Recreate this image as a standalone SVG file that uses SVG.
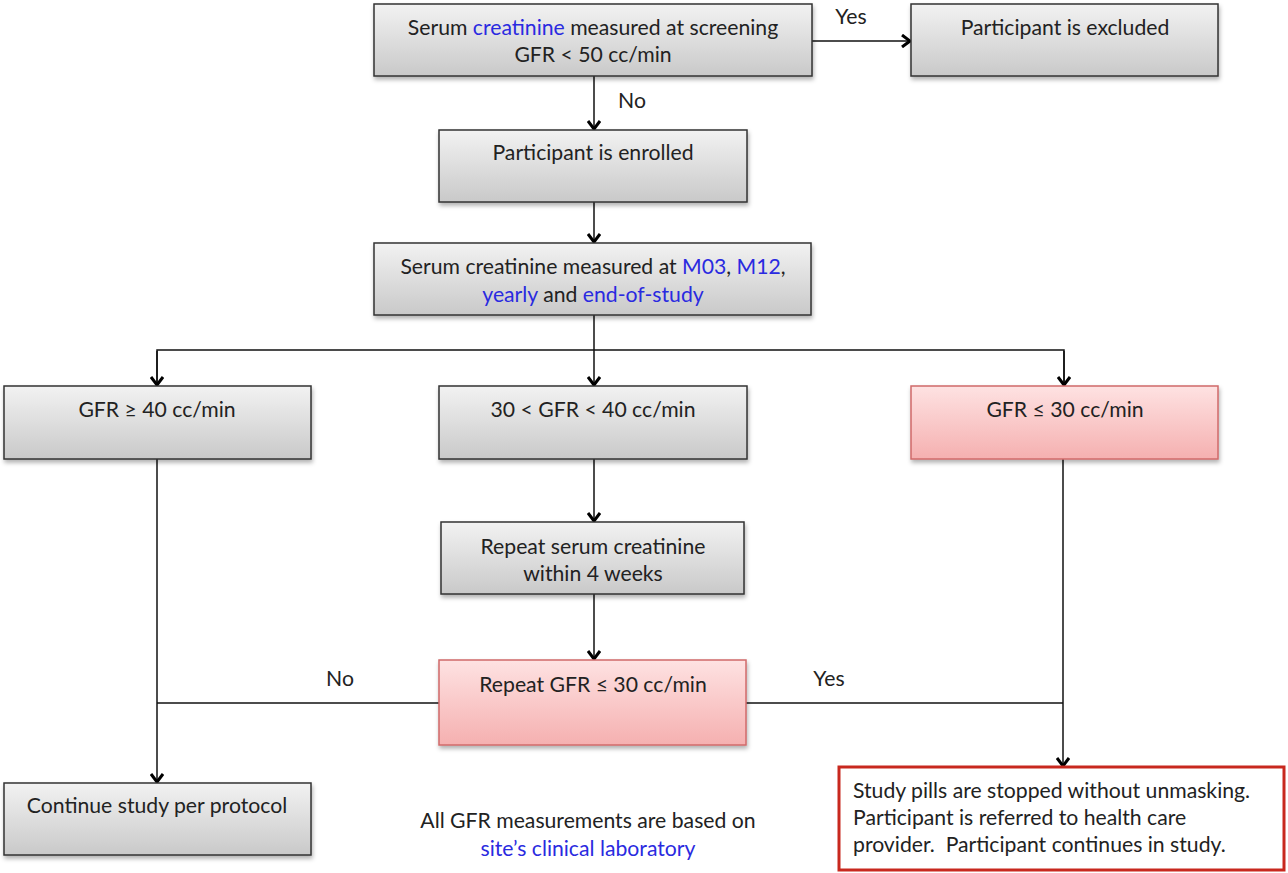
<svg xmlns="http://www.w3.org/2000/svg" width="1288" height="873" viewBox="0 0 1288 873">
<style>
text{font-family:Lato,"Open Sans","Liberation Sans",sans-serif;font-size:21.2px;fill:#222;text-anchor:middle}
.b{fill:#2a2ae0}
.l{text-anchor:start}
.g{fill:url(#gg);stroke:#333;stroke-width:1.5;filter:url(#sh)}
.p{fill:url(#pg);stroke:#d06a6a;stroke-width:1.5;filter:url(#sh)}
.c{fill:none;stroke:#111;stroke-width:1.5}
.a{marker-end:url(#ar)}
</style>
<defs>
<linearGradient id="gg" x1="0" y1="0" x2="0" y2="1"><stop offset="0" stop-color="#f2f2f2"/><stop offset="1" stop-color="#c9c9c9"/></linearGradient>
<linearGradient id="pg" x1="0" y1="0" x2="0" y2="1"><stop offset="0" stop-color="#fee2e2"/><stop offset="1" stop-color="#f5b0b0"/></linearGradient>
<filter id="sh" x="-5%" y="-10%" width="110%" height="130%"><feDropShadow dx="1" dy="3" stdDeviation="2" flood-color="#000" flood-opacity="0.3"/></filter>
<marker id="ar" markerWidth="12" markerHeight="14" refX="10" refY="7" orient="auto" markerUnits="userSpaceOnUse" viewBox="0 0 12 14"><polyline points="2,1 10,7 2,13" fill="none" stroke="#000" stroke-width="3"/></marker>
</defs>
<g id="connectors">
<line class="c a" x1="594" y1="76" x2="594" y2="129"/>
<line class="c a" x1="812" y1="41" x2="910" y2="41"/>
<line class="c a" x1="594" y1="202" x2="594" y2="242"/>
<line class="c a" x1="594" y1="315" x2="594" y2="385"/>
<polyline class="c" points="157,385 157,350 1064,350 1064,385"/>
<line class="c a" x1="157" y1="351" x2="157" y2="385"/>
<line class="c a" x1="1064" y1="351" x2="1064" y2="385"/>
<line class="c a" x1="594" y1="459" x2="594" y2="521"/>
<line class="c a" x1="594" y1="594" x2="594" y2="659"/>
<line class="c a" x1="157" y1="459" x2="157" y2="782"/>
<line class="c" x1="439" y1="703" x2="157" y2="703"/>
<line class="c a" x1="1063" y1="459" x2="1063" y2="766"/>
<line class="c" x1="746" y1="703" x2="1063" y2="703"/>
<text x="851" y="24">Yes</text>
<text x="632" y="108">No</text>
<text x="340" y="686">No</text>
<text x="829" y="686">Yes</text>
</g>
<g id="n1"><rect class="g" x="374" y="4" width="438" height="72"/><text x="593" y="35">Serum <tspan class="b">creatinine</tspan> measured at screening</text><text x="593" y="62">GFR &lt; 50 cc/min</text></g>
<g id="n2"><rect class="g" x="911" y="4" width="307" height="72"/><text x="1065" y="35">Participant is excluded</text></g>
<g id="n3"><rect class="g" x="439" y="130" width="308" height="72"/><text x="593" y="160">Participant is enrolled</text></g>
<g id="n4"><rect class="g" x="374" y="243" width="437" height="72"/><text x="593" y="274">Serum creatinine measured at <tspan class="b">M03</tspan>, <tspan class="b">M12</tspan>,</text><text x="593" y="302"><tspan class="b">yearly</tspan> and <tspan class="b">end-of-study</tspan></text></g>
<g id="n5"><rect class="g" x="4" y="386" width="307" height="73"/><text x="157" y="417">GFR ≥ 40 cc/min</text></g>
<g id="n6"><rect class="g" x="439" y="386" width="308" height="73"/><text x="593" y="417">30 &lt; GFR &lt; 40 cc/min</text></g>
<g id="n7"><rect class="p" x="911" y="386" width="307" height="73"/><text x="1065" y="417">GFR ≤ 30 cc/min</text></g>
<g id="n8"><rect class="g" x="441" y="522" width="303" height="72"/><text x="593" y="554">Repeat serum creatinine</text><text x="593" y="581">within 4 weeks</text></g>
<g id="n9"><rect class="p" x="439" y="660" width="307" height="85"/><text x="593" y="692">Repeat GFR ≤ 30 cc/min</text></g>
<g id="n10"><rect class="g" x="4" y="783" width="307" height="72"/><text x="157" y="813">Continue study per protocol</text></g>
<g id="n11"><rect x="839" y="767" width="445" height="103" fill="#fff" stroke="#c8281e" stroke-width="3"/><text class="l" x="853" y="798">Study pills are stopped without unmasking.</text><text class="l" x="853" y="825">Participant is referred to health care</text><text class="l" x="853" y="852">provider.&#160; Participant continues in study.</text></g>
<g id="note"><text x="588" y="828">All GFR measurements are based on</text><text class="b" x="588" y="856">site’s clinical laboratory</text></g>
</svg>
